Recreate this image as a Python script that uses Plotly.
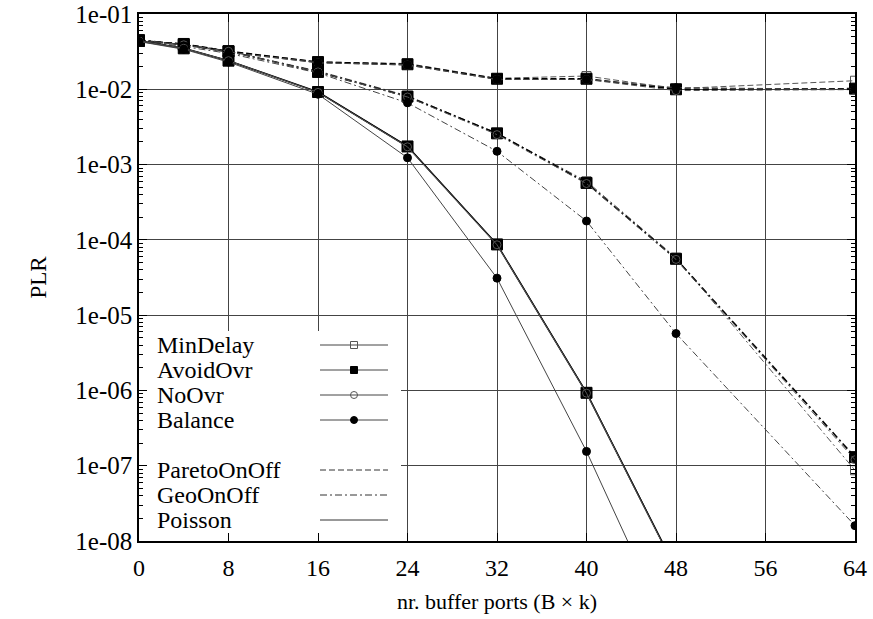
import plotly.graph_objects as go

# ---------------- data ----------------
buffer_ports = [0, 4, 8, 16, 24, 32, 40, 48, 64]

pareto_mindelay = [4.5e-2, 4.0e-2, 3.2e-2, 2.3e-2, 2.2e-2, 1.40e-2, 1.50e-2, 1.02e-2, 1.30e-2]
pareto_avoidovr = [4.4e-2, 4.0e-2, 3.2e-2, 2.3e-2, 2.15e-2, 1.38e-2, 1.38e-2, 1.00e-2, 1.02e-2]
pareto_noovr    = [4.4e-2, 3.9e-2, 3.1e-2, 2.25e-2, 2.1e-2, 1.35e-2, 1.35e-2, 0.96e-2, 0.99e-2]
pareto_balance  = [4.4e-2, 3.9e-2, 3.1e-2, 2.25e-2, 2.1e-2, 1.35e-2, 1.35e-2, 1.05e-2, 1.00e-2]

geo_mindelay = [4.5e-2, 3.9e-2, 3.2e-2, 1.75e-2, 8.2e-3, 2.6e-3, 6.0e-4, 5.8e-5, 8.7e-8]
geo_avoidovr = [4.5e-2, 3.9e-2, 3.2e-2, 1.70e-2, 8.0e-3, 2.6e-3, 5.7e-4, 5.6e-5, 1.3e-7]
geo_noovr    = [4.5e-2, 3.9e-2, 3.2e-2, 1.70e-2, 7.9e-3, 2.5e-3, 5.6e-4, 5.5e-5, 1.2e-7]
geo_balance  = [4.4e-2, 3.7e-2, 3.0e-2, 1.65e-2, 6.6e-3, 1.5e-3, 1.78e-4, 5.7e-6, 1.6e-8]

poisson_mindelay = [4.4e-2, 3.5e-2, 2.4e-2, 9.2e-3, 1.76e-3, 8.8e-5, 9.5e-7, 4.3e-9, None]
poisson_avoidovr = [4.4e-2, 3.5e-2, 2.4e-2, 9.2e-3, 1.74e-3, 8.7e-5, 9.3e-7, 4.2e-9, None]
poisson_noovr    = [4.4e-2, 3.5e-2, 2.4e-2, 9.1e-3, 1.72e-3, 8.6e-5, 9.2e-7, 4.1e-9, None]
poisson_balance  = [4.3e-2, 3.4e-2, 2.3e-2, 8.6e-3, 1.23e-3, 3.1e-5, 1.55e-7, 4.0e-10, None]

x_ticks = [0, 8, 16, 24, 32, 40, 48, 56, 64]
y_tickvals = [1e-1, 1e-2, 1e-3, 1e-4, 1e-5, 1e-6, 1e-7, 1e-8]
y_ticktext = ["1e-01", "1e-02", "1e-03", "1e-04", "1e-05", "1e-06", "1e-07", "1e-08"]

strategy_names = ["MinDelay", "AvoidOvr", "NoOvr", "Balance"]
traffic_names = ["ParetoOnOff", "GeoOnOff", "Poisson"]

# ---------------- styles ----------------
FONT = "Liberation Serif"
strategy_style = {
    "MinDelay": dict(symbol="square-open", size=9, mcolor="#555555", lcolor="#555555", width=1.0),
    "AvoidOvr": dict(symbol="square", size=11, mcolor="#000000", lcolor="#000000", width=1.6),
    "NoOvr": dict(symbol="circle-open", size=8, mcolor="#555555", lcolor="#555555", width=1.0),
    "Balance": dict(symbol="circle", size=8, mcolor="#000000", lcolor="#444444", width=1.0),
}
traffic_dash = {
    "ParetoOnOff": "6px,3px",
    "GeoOnOff": "7px,3px,2px,3px",
    "Poisson": "solid",
}

series = {
    "ParetoOnOff": [pareto_mindelay, pareto_avoidovr, pareto_noovr, pareto_balance],
    "GeoOnOff": [geo_mindelay, geo_avoidovr, geo_noovr, geo_balance],
    "Poisson": [poisson_mindelay, poisson_avoidovr, poisson_noovr, poisson_balance],
}

fig = go.Figure()

for traffic in traffic_names:
    for strat, vals in zip(strategy_names, series[traffic]):
        st = strategy_style[strat]
        fig.add_trace(go.Scatter(
            x=buffer_ports, y=vals, mode="lines+markers",
            name=f"{traffic} {strat}", showlegend=False,
            line=dict(color=st["lcolor"], width=st["width"], dash=traffic_dash[traffic]),
            marker=dict(symbol=st["symbol"], size=st["size"], color=st["mcolor"],
                        line=dict(color=st["mcolor"], width=1)),
            connectgaps=False,
        ))

# ---------------- in-plot key (gnuplot style) on an overlay pixel axis ----------------
L, R, T, B = 139, 855, 14, 541
key_box = dict(x0=L, x1=401, y0=331, y1=B)
fig.add_trace(go.Scatter(
    x=[key_box["x0"], key_box["x1"], key_box["x1"], key_box["x0"], key_box["x0"]],
    y=[key_box["y0"], key_box["y0"], key_box["y1"], key_box["y1"], key_box["y0"]],
    xaxis="x2", yaxis="y2", mode="lines", fill="toself", fillcolor="white",
    line=dict(width=0, color="white"), showlegend=False, hoverinfo="skip"))

key_rows_strat = [345, 370, 395, 420]
key_rows_traffic = [470, 495, 520]
sample_x0, sample_x1, sample_mid, label_x = 320, 388, 354, 155

for strat, yy in zip(strategy_names, key_rows_strat):
    st = strategy_style[strat]
    fig.add_trace(go.Scatter(
        x=[sample_x0, sample_mid, sample_x1], y=[yy, yy, yy], xaxis="x2", yaxis="y2",
        mode="lines", line=dict(color="#444444", width=1), showlegend=False, hoverinfo="skip"))
    fig.add_trace(go.Scatter(
        x=[sample_mid], y=[yy], xaxis="x2", yaxis="y2", mode="markers",
        marker=dict(symbol=st["symbol"], size=7, color=st["mcolor"],
                    line=dict(color=st["mcolor"], width=1)),
        showlegend=False, hoverinfo="skip"))
    fig.add_annotation(x=label_x, y=yy, xref="x2", yref="y2", text=strat,
                       showarrow=False, xanchor="left", yanchor="middle",
                       font=dict(family=FONT, size=24, color="black"))

for traffic, yy in zip(traffic_names, key_rows_traffic):
    fig.add_trace(go.Scatter(
        x=[sample_x0, sample_x1], y=[yy, yy], xaxis="x2", yaxis="y2",
        mode="lines", line=dict(color="#333333", width=1, dash=traffic_dash[traffic]),
        showlegend=False, hoverinfo="skip"))
    fig.add_annotation(x=label_x, y=yy, xref="x2", yref="y2", text=traffic,
                       showarrow=False, xanchor="left", yanchor="middle",
                       font=dict(family=FONT, size=24, color="black"))

grid_color = "#444444"
fig.update_layout(
    width=873, height=619,
    margin=dict(l=L, r=873 - R, t=T, b=619 - B),
    paper_bgcolor="white", plot_bgcolor="white",
    font=dict(family=FONT, size=24, color="black"),
    showlegend=False,
    xaxis=dict(
        range=[0, 64], tickvals=x_ticks, ticktext=[str(v) for v in x_ticks],
        showgrid=True, gridcolor=grid_color, gridwidth=1, automargin=False,
        zeroline=False, showline=True, linecolor="black", linewidth=1.5, mirror="ticks",
        ticks="inside", ticklen=8, tickcolor="black",
        tickfont=dict(family=FONT, size=24),
        ticklabelstandoff=4,
        title=dict(text="nr. buffer ports (B \u00d7 k)", font=dict(family=FONT, size=22), standoff=14),
    ),
    yaxis=dict(
        type="log", range=[-8, -1], tickvals=y_tickvals, ticktext=y_ticktext,
        showgrid=True, gridcolor=grid_color, gridwidth=1, automargin=False,
        zeroline=False, showline=True, linecolor="black", linewidth=1.5, mirror="ticks",
        ticks="inside", ticklen=8, tickcolor="black",
        minor=dict(ticks="inside", ticklen=4, tickcolor="black", showgrid=False, dtick="D1"),
        tickfont=dict(family=FONT, size=25),
        ticklabelstandoff=0,
        title=dict(text="PLR", font=dict(family=FONT, size=23), standoff=22),
    ),
    xaxis2=dict(overlaying="x", range=[L, R], visible=False, fixedrange=True),
    yaxis2=dict(overlaying="y", range=[B, T], visible=False, fixedrange=True),
)

fig.write_html("out.html")
